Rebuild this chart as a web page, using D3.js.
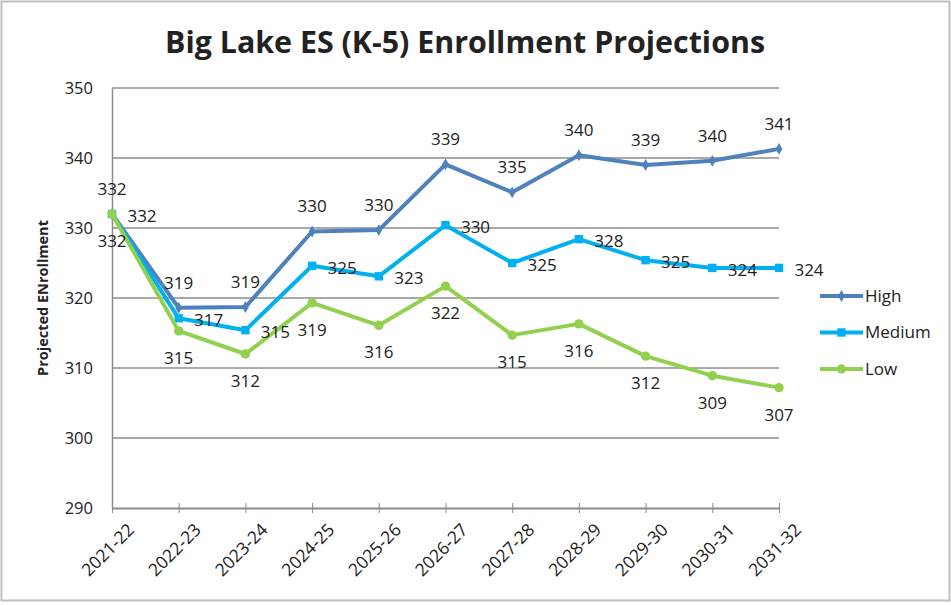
<!DOCTYPE html>
<html>
<head>
<meta charset="utf-8">
<script src="https://cdn.jsdelivr.net/npm/d3@7"></script>
<style>
  body { margin: 0; background: #fff; }
  text { font-family: "Open Sans", "DejaVu Sans", sans-serif; fill: #222; }
</style>
</head>
<body>
<svg id="chart" width="951" height="605"></svg>
<script>
var years = ["2021-22", "2022-23", "2023-24", "2024-25", "2025-26", "2026-27",
             "2027-28", "2028-29", "2029-30", "2030-31", "2031-32"];
var high   = [332, 318.6, 318.7, 329.5, 329.7, 339.1, 335.1, 340.4, 339.0, 339.6, 341.3];
var medium = [332, 317.1, 315.4, 324.6, 323.1, 330.4, 325.0, 328.4, 325.4, 324.3, 324.3];
var low    = [332, 315.3, 312.0, 319.3, 316.1, 321.7, 314.7, 316.3, 311.7, 308.9, 307.2];
var yTicks = [290, 300, 310, 320, 330, 340, 350];

var series = [
  {name: "High",   values: high,   color: "#4F81BD", symbol: d3.symbolDiamond, size: 40, pos: "above"},
  {name: "Medium", values: medium, color: "#00B0F0", symbol: d3.symbolSquare,  size: 70, pos: "right"},
  {name: "Low",    values: low,    color: "#92D050", symbol: d3.symbolCircle,  size: 70, pos: "below"}
];

var svg = d3.select("#chart");
var fmt = d3.format("d");

// outer frame
svg.append("rect")
    .attr("x", 1.5).attr("y", 1.5).attr("width", 948).attr("height", 599)
    .attr("fill", "none").attr("stroke", "#bfbfbf").attr("stroke-width", 2);

var x = d3.scalePoint().domain(years).range([112, 779]);
var y = d3.scaleLinear().domain([290, 350]).range([508, 88]);

// gridlines
svg.append("g").selectAll("line")
    .data(yTicks.filter(function(d) { return d > 290; }))
  .enter().append("line")
    .attr("x1", 112).attr("x2", 779)
    .attr("y1", function(d) { return y(d); })
    .attr("y2", function(d) { return y(d); })
    .attr("stroke", "#8c8c8c").attr("stroke-width", 1.5);

// y axis
var yAxis = svg.append("g")
    .attr("transform", "translate(112,0)")
    .call(d3.axisLeft(y).tickValues(yTicks).tickSize(0).tickPadding(19));
yAxis.select(".domain").attr("stroke", "#8c8c8c").attr("stroke-width", 1.5);
yAxis.selectAll("text").style("font-size", "16.5px").attr("fill", "#222");

// x axis
var xAxis = svg.append("g")
    .attr("transform", "translate(0,508)")
    .call(d3.axisBottom(x).tickSizeInner(5).tickSizeOuter(0).tickPadding(10));
xAxis.select(".domain").attr("stroke", "#8c8c8c").attr("stroke-width", 2);
xAxis.selectAll(".tick line").attr("stroke", "#8c8c8c").attr("y1", -5);
xAxis.selectAll("text")
    .style("font-size", "17.5px").attr("fill", "#222")
    .attr("text-anchor", "end")
    .attr("dy", "0.35em")
    .attr("transform", "translate(8,8) rotate(-45)");

// axis title
svg.append("text")
    .attr("transform", "translate(48,298) rotate(-90)")
    .attr("text-anchor", "middle")
    .style("font-size", "14.5px").style("font-weight", "bold")
    .text("Projected ENrollment");

// chart title
svg.append("text")
    .attr("x", 465).attr("y", 53)
    .attr("text-anchor", "middle")
    .attr("textLength", 600).attr("lengthAdjust", "spacingAndGlyphs")
    .style("font-size", "31px").style("font-weight", "bold")
    .text("Big Lake ES (K-5) Enrollment Projections");

var line = d3.line()
    .x(function(d, i) { return x(years[i]); })
    .y(function(d) { return y(d); });

series.forEach(function(s) {
  svg.append("path")
      .datum(s.values)
      .attr("fill", "none")
      .attr("stroke", s.color)
      .attr("stroke-width", 4)
      .attr("stroke-linejoin", "round")
      .attr("d", line);

  svg.append("g").selectAll("path")
      .data(s.values)
    .enter().append("path")
      .attr("transform", function(d, i) { return "translate(" + x(years[i]) + "," + y(d) + ")"; })
      .attr("d", d3.symbol().type(s.symbol).size(s.size))
      .attr("fill", s.color);
});

// data labels
series.forEach(function(s) {
  svg.append("g").selectAll("text")
      .data(s.values)
    .enter().append("text")
      .attr("x", function(d, i) { return x(years[i]) + (s.pos === "right" ? 30 : 0); })
      .attr("y", function(d) {
        return y(d) + (s.pos === "above" ? -25 : s.pos === "below" ? 27 : 2);
      })
      .attr("text-anchor", "middle")
      .attr("dy", "0.35em")
      .style("font-size", "17px")
      .text(function(d) { return fmt(Math.round(d)); });
});

// legend
var legend = svg.append("g").selectAll("g")
    .data(series)
  .enter().append("g")
    .attr("transform", function(d, i) { return "translate(820," + (296 + i * 36.5) + ")"; });
legend.append("line")
    .attr("x1", 0).attr("x2", 43)
    .attr("stroke", function(d) { return d.color; })
    .attr("stroke-width", 4);
legend.append("path")
    .attr("transform", "translate(21.5,0)")
    .attr("d", function(d) { return d3.symbol().type(d.symbol).size(d.size)(); })
    .attr("fill", function(d) { return d.color; });
legend.append("text")
    .attr("x", 45).attr("dy", "0.35em")
    .style("font-size", "17px")
    .text(function(d) { return d.name; });
</script>
</body>
</html>
